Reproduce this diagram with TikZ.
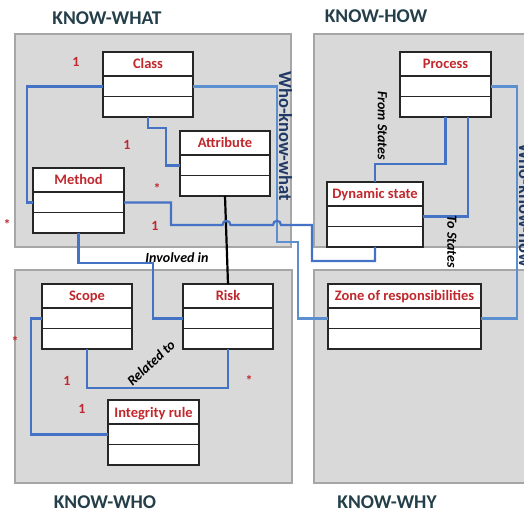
\documentclass[tikz,border=0pt]{standalone}
\usepackage{fontspec}
\setmainfont{Carlito}
\usetikzlibrary{calc}
\definecolor{panelfill}{HTML}{D9D9D9}
\definecolor{panelline}{HTML}{A6A6A6}
\definecolor{umlred}{HTML}{C0282D}
\definecolor{conblue}{HTML}{4472C4}
\definecolor{conlight}{HTML}{5B8FD0}
\definecolor{titlecol}{HTML}{243F4A}
\definecolor{navytext}{HTML}{1F3864}
\tikzset{
  panel/.style={fill=panelfill, draw=panelline, line width=2.4pt},
  paneltitle/.style={font=\bfseries\fontsize{19.5}{22}\selectfont, text=titlecol, inner sep=0pt},
  umlbox/.style={draw=black!85, fill=white, line width=1.4pt, inner sep=0pt, outer sep=0pt},
  umlline/.style={draw=black!85, line width=1.4pt},
  umltitle/.style={font=\bfseries\fontsize{14.5}{16}\selectfont, text=umlred, inner sep=0pt, anchor=base},
  conn/.style={draw=conblue, line width=2.2pt},
  connlight/.style={draw=conlight, line width=2.2pt},
  blackconn/.style={draw=black, line width=2.2pt},
  mult/.style={font=\bfseries\fontsize{14}{16}\selectfont, text=umlred, inner sep=0pt},
  rolelabel/.style={font=\bfseries\itshape\fontsize{14}{16}\selectfont, text=black, inner sep=0pt},
  whotext/.style={font=\bfseries\fontsize{18.5}{20}\selectfont, text=navytext, inner sep=0pt, rotate=-90}
}
\newcommand{\umlbox}[5]{%
  \node[umlbox, minimum width=#4pt, minimum height=65pt, anchor=north west] (#1) at (#2,#3) {};
  \node[umltitle] (#1-t) at ([yshift=-17pt]#1.north) {#5};
  \draw[umlline] ([yshift=-24pt]#1.north west) -- ([yshift=-24pt]#1.north east);
  \draw[umlline] ([yshift=-44.5pt]#1.north west) -- ([yshift=-44.5pt]#1.north east);
  \coordinate (#1-c1w) at ([yshift=-34.5pt]#1.north west);
  \coordinate (#1-c1e) at ([yshift=-34.5pt]#1.north east);
}
\begin{document}
\begin{tikzpicture}[x=1pt,y=-1pt]
\useasboundingbox (0,0) rectangle (524,510);
\clip (0,0) rectangle (524,510);
% panels
\draw[panel] (15,34) rectangle (291,247);
\draw[panel] (314,34) rectangle (545,247);
\draw[panel] (15,270) rectangle (292,483);
\draw[panel] (314,270) rectangle (545,483);
\node[paneltitle] (twhat) at (107,18.5) {KNOW-WHAT};
\node[paneltitle] (thow) at (376,16) {KNOW-HOW};
\node[paneltitle] (twho) at (105,502) {KNOW-WHO};
\node[paneltitle] (twhy) at (387,502) {KNOW-WHY};
% boxes
\umlbox{class}{103}{52}{90}{Class}
\umlbox{attr}{180}{131}{90}{Attribute}
\umlbox{method}{33}{168}{91}{Method}
\umlbox{process}{400}{52}{91}{Process}
\umlbox{dyn}{327}{182}{96}{Dynamic state}
\umlbox{scope}{42}{284}{90}{Scope}
\umlbox{risk}{183}{284}{90}{Risk}
\umlbox{integ}{108}{400}{91}{Integrity rule}
\umlbox{zone}{328}{284}{153}{Zone of responsibilities}
% connectors
\draw[conn] (class-c1w) -| ([xshift=-6pt]method-c1w) -- (method-c1w);
\draw[conn] (class.south) -- ++(0,11) -| ([xshift=-14pt]attr-c1w) -- (attr-c1w);
\draw[blackconn] (attr.south) -- (risk.north);
\draw[connlight] (class-c1e) -| (277,242) -- (298,242) |- (zone-c1w);
\draw[conn] (method-c1e) -| (171,225) -- (222.5,225)
  .. controls (222.5,219.5) and (230.5,219.5) .. (230.5,225) -- (273,225)
  .. controls (273,219.5) and (281,219.5) .. (281,225) -- (312,225) |- (375,261) -- (dyn.south);
\draw[conn] (process.south) |- ([yshift=18pt]dyn.north) -- (dyn.north);
\draw[conn] ([xshift=22.5pt]process.south) |- (dyn-c1e);
\draw[connlight] (process-c1e) -| ($(zone-c1e)+(36,0)$) -- (zone-c1e);
\draw[conn] (method.south) |- (153,263) |- (risk-c1w);
\draw[conn] (scope.south) |- ([yshift=-39pt]risk.south) -- (risk.south);
\draw[conn] (scope-c1w) -| ([xshift=-77pt]integ-c1w) -- (integ-c1w);
% multiplicities
\node[mult] (m1) at (76,62) {1};
\node[mult] (m2) at (7,224) {*};
\node[mult] (m3) at (127,145) {1};
\node[mult] (m4) at (157,188) {*};
\node[mult] (m5) at (155,226) {1};
\node[mult] (m6) at (67,381) {1};
\node[mult] (m7) at (249,380) {*};
\node[mult] (m8) at (15,341) {*};
\node[mult] (m9) at (82,409) {1};
% labels
\node[rolelabel] (linv) at (177,258) {Involved in};
\node[rolelabel, rotate=-90] (lfrom) at (382.5,125.5) {From States};
\node[rolelabel, rotate=-90] (lto) at (452,242) {To States};
\node[rolelabel, rotate=43] (lrel) at (151,363) {Related to};
\node[whotext] (wwhat) at (285.5,136) {Who-know-what};
\node[whotext] (whow) at (525.5,205) {Who-know-how};
\end{tikzpicture}
\end{document}
